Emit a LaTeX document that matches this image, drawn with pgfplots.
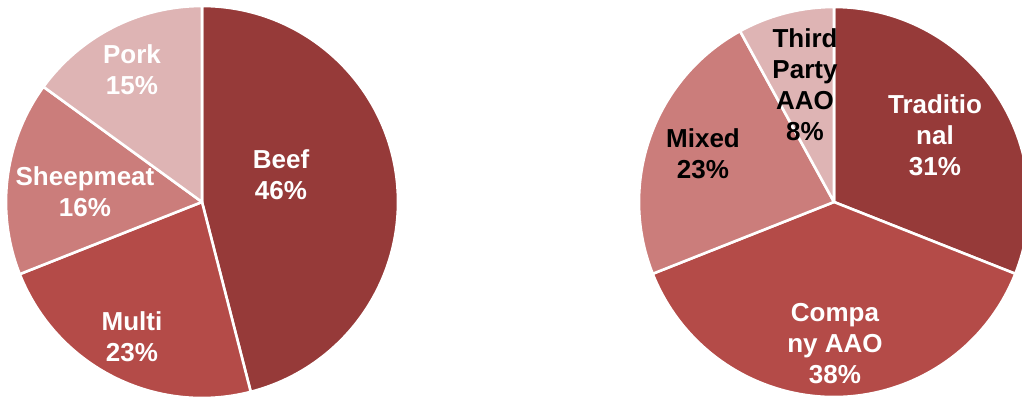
\documentclass[border=0pt]{standalone}
\usepackage{pgfplots}
\pgfplotsset{compat=1.18}
\usepackage{fontspec}
\setmainfont{Liberation Sans}
\definecolor{cA}{HTML}{963A39}
\definecolor{cB}{HTML}{B44B48}
\definecolor{cC}{HTML}{CB7D7B}
\definecolor{cD}{HTML}{DEB4B4}
\tikzset{lbl/.style={font=\fontsize{26}{31}\selectfont\bfseries, align=center, inner sep=0pt}}
% #1,#2 centre, #3 radius, #4 cumulative share before slice, #5 share, #6 colour
\newcommand{\slice}[6]{%
  \fill[#6, draw=white, line width=2.6pt, line join=round]
    (axis cs:#1,#2) -- ++({90-3.6*#4}:#3pt)
    arc[start angle={90-3.6*#4}, end angle={90-3.6*(#4+#5)}, radius=#3pt] -- cycle;}
\begin{document}
\begin{tikzpicture}
\useasboundingbox (0,0) rectangle (1022pt,398pt);
\begin{axis}[
  at={(0,0)}, anchor=south west,
  width=1022pt, height=398pt, scale only axis,
  xmin=0, xmax=1022, ymin=0, ymax=398,
  hide axis, clip=true
]
% Left pie: Beef 46, Multi 23, Sheepmeat 16, Pork 15
\slice{202}{196}{196}{0}{46}{cA}
\slice{202}{196}{196}{46}{23}{cB}
\slice{202}{196}{196}{69}{16}{cC}
\slice{202}{196}{196}{85}{15}{cD}
% Right pie: Traditional 31, Company AAO 38, Mixed 23, Third Party AAO 8
\slice{834}{196}{195}{0}{31}{cA}
\slice{834}{196}{195}{31}{38}{cB}
\slice{834}{196}{195}{69}{23}{cC}
\slice{834}{196}{195}{92}{8}{cD}
\node[lbl, text=white] at (axis cs:281,223) {Beef\\46\%};
\node[lbl, text=white] at (axis cs:132,328) {Pork\\15\%};
\node[lbl, text=white] at (axis cs:85,206) {Sheepmeat\\16\%};
\node[lbl, text=white] at (axis cs:132,61) {Multi\\23\%};
\node[lbl, text=black] at (axis cs:805,313) {Third\\Party\\AAO\\8\%};
\node[lbl, text=white] at (axis cs:935,263) {Traditio\\nal\\31\%};
\node[lbl, text=black] at (axis cs:703,244) {Mixed\\23\%};
\node[lbl, text=white] at (axis cs:835,54) {Compa\\ny AAO\\38\%};
\end{axis}
\end{tikzpicture}
\end{document}
